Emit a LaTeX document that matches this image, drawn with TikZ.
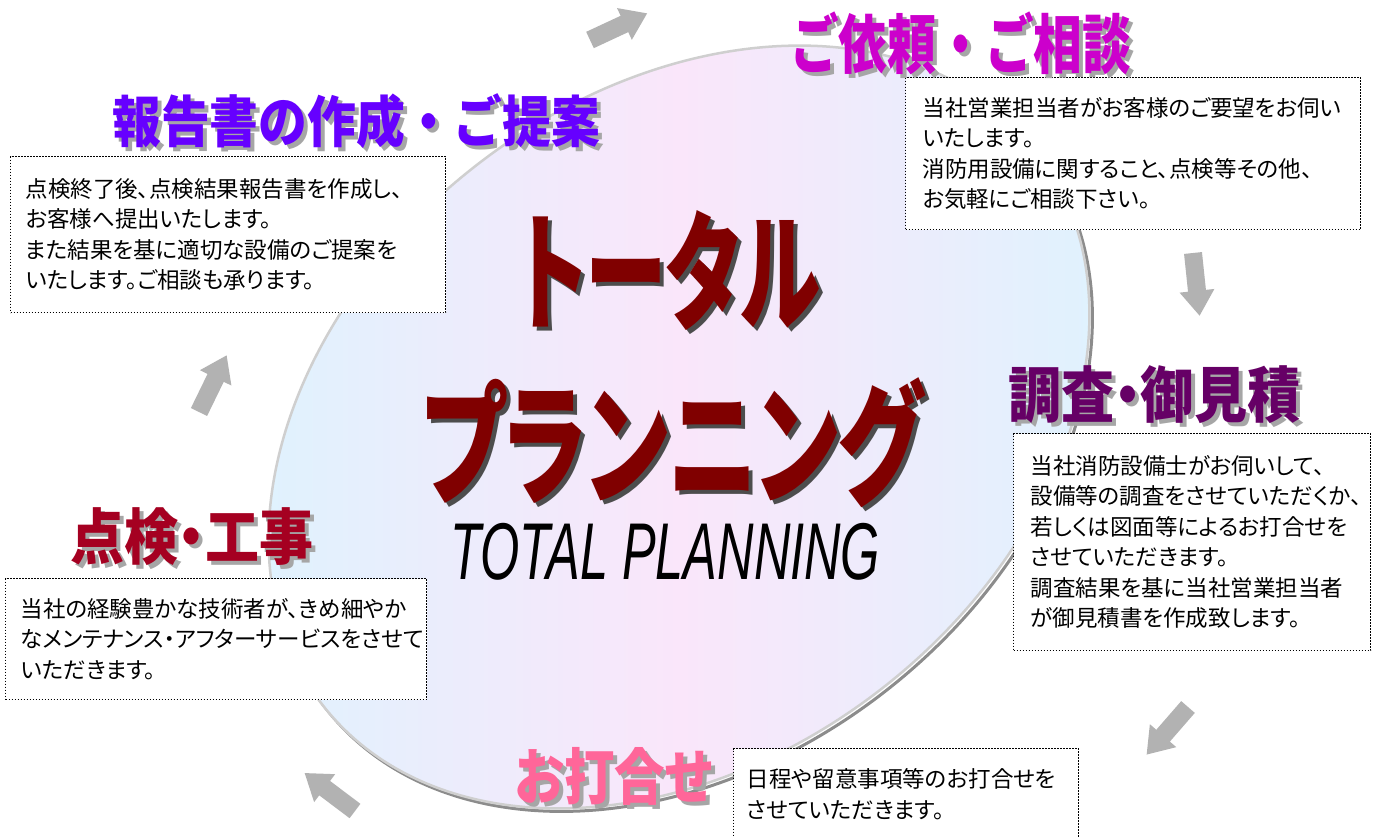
\documentclass[tikz,border=0pt]{standalone}
\usepackage{fontspec}
\usepackage{graphicx}
\newfontfamily\jp[RawFeature=+palt]{Noto Sans CJK JP}
\newfontfamily\jpw{Noto Sans CJK JP}
\newfontfamily\lib{Liberation Sans}
\definecolor{magH}{HTML}{CC00CC}
\definecolor{vioH}{HTML}{6600FF}
\definecolor{purH}{HTML}{660066}
\definecolor{crimH}{HTML}{A50021}
\definecolor{pinkH}{HTML}{FF6699}
\definecolor{titleR}{HTML}{800000}
\definecolor{shadowH}{HTML}{A6A6A6}
\definecolor{shadowT}{HTML}{4D4D4D}
\definecolor{arrowgray}{HTML}{B2B2B2}
\definecolor{ellblue}{HTML}{DDF3FE}
\definecolor{ellpink}{HTML}{FAE6FA}
\definecolor{elledge}{HTML}{CFCFCF}
\definecolor{elldark}{HTML}{8C8C8C}
\newcommand{\hdbox}[3]{\resizebox*{#1}{#2}{#3}}
\tikzset{
  txtbox/.style={draw=black, dash pattern=on 1.2pt off 1.8pt, line width=1.2pt, fill=white,
    anchor=north west, inner ysep=0pt, align=left, font=\jp\fontsize{22.5}{30.5}\selectfont},
  hd/.style={anchor=north west, inner sep=0pt},
  blockarr/.pic={\fill[arrowgray] (0,-9) -- (38,-9) -- (38,-17.5) -- (63,0) -- (38,17.5) -- (38,9) -- (0,9) -- cycle;},
}
\begin{document}
\begin{tikzpicture}[x=1pt,y=-1pt]
\useasboundingbox[fill=white] (0,0) rectangle (1376,836);

% ellipse
\draw[elldark, line width=3pt, shift={(682,430)}, rotate=38] (0,0) ellipse [x radius=452, y radius=331];
\begin{scope}
  \clip[shift={(679,427)}, rotate=38] (0,0) ellipse [x radius=452, y radius=331];
  \shade[left color=ellblue, right color=ellblue, middle color=ellpink] (225,-30) rectangle (1135,890);
\end{scope}
\draw[elledge, line width=2.5pt, shift={(679,427)}, rotate=38] (0,0) ellipse [x radius=452, y radius=331];

% arrows
\path (590,40) pic[rotate=25] {blockarr};
\path (1193,253) pic[rotate=-84] {blockarr};
\path (1188,707) pic[rotate=-131] {blockarr};
\path (355,811) pic[rotate=143] {blockarr};
\path (199,412) pic[rotate=64] {blockarr};

% central title
\node[hd, text=shadowT] (t1s) at (522,214) {\hdbox{302pt}{120pt}{\jp\bfseries トータル}};
\node[hd, text=titleR] (t1) at (518,210) {\hdbox{302pt}{120pt}{\jp\bfseries トータル}};
\node[hd, text=shadowT] (t2s) at (426,381) {\hdbox{500pt}{130pt}{\jp\bfseries プランニング}};
\node[hd, text=titleR] (t2) at (422,377) {\hdbox{500pt}{130pt}{\jp\bfseries プランニング}};
\node[hd] (t3) at (450,523) {\hdbox{430pt}{57pt}{\lib\itshape TOTAL PLANNING}};

% text boxes
\node[txtbox, minimum width=435pt, minimum height=156pt, text width=405pt, inner xsep=15pt] (boxA) at (10,156)
  {点検終了後、点検結果報告書を作成し、\\お客様へ提出いたします。\\また結果を基に適切な設備のご提案を\\いたします。ご相談も承ります。};
\node[txtbox, minimum width=455pt, minimum height=152pt, text width=421pt, inner xsep=17pt] (boxB) at (905,77)
  {当社営業担当者がお客様のご要望をお伺い\\いたします。\\消防用設備に関すること、点検等その他、\\お気軽にご相談下さい。};
\node[txtbox, minimum width=357pt, minimum height=217pt, text width=323pt, inner xsep=17pt] (boxC) at (1013,433)
  {当社消防設備士がお伺いして、\\設備等の調査をさせていただくか、\\若しくは図面等によるお打合せを\\させていただきます。\\調査結果を基に当社営業担当者\\が御見積書を作成致します。};
\node[txtbox, minimum width=421pt, minimum height=121pt, text width=391pt, inner xsep=15pt] (boxD) at (5,578)
  {当社の経験豊かな技術者が、きめ細やか\\なメンテナンス・アフターサービスをさせて\\いただきます。};
\node[txtbox, minimum width=345pt, minimum height=91pt, text width=319pt, inner xsep=13pt] (boxE) at (733,748)
  {日程や留意事項等のお打合せを\\させていただきます。};

% headings
\node[hd, text=shadowH] (h1s) at (794,16) {\hdbox{341pt}{63pt}{\jpw\bfseries ご依頼・ご相談}};
\node[hd, text=magH] (h1) at (790,12) {\hdbox{341pt}{63pt}{\jpw\bfseries ご依頼・ご相談}};
\node[hd, text=shadowH] (h2s) at (116,97) {\hdbox{488pt}{55pt}{\jpw\bfseries 報告書の作成・ご提案}};
\node[hd, text=vioH] (h2) at (112,93) {\hdbox{488pt}{55pt}{\jpw\bfseries 報告書の作成・ご提案}};
\node[hd, text=shadowH] (h3s) at (1012,369) {\hdbox{292pt}{58pt}{\jp\bfseries 調査・御見積}};
\node[hd, text=purH] (h3) at (1008,365) {\hdbox{292pt}{58pt}{\jp\bfseries 調査・御見積}};
\node[hd, text=shadowH] (h4s) at (74,511) {\hdbox{243pt}{58pt}{\jp\bfseries 点検・工事}};
\node[hd, text=crimH] (h4) at (70,507) {\hdbox{243pt}{58pt}{\jp\bfseries 点検・工事}};
\node[hd, text=shadowH] (h5s) at (519,751) {\hdbox{197pt}{58pt}{\jp\bfseries お打合せ}};
\node[hd, text=pinkH] (h5) at (515,747) {\hdbox{197pt}{58pt}{\jp\bfseries お打合せ}};
\end{tikzpicture}
\end{document}
